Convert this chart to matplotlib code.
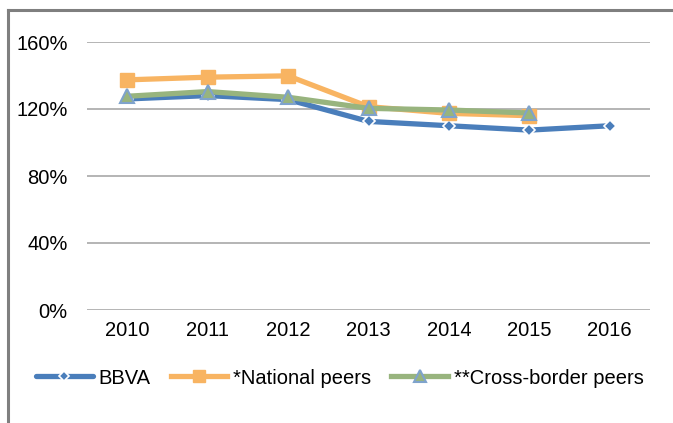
import matplotlib
matplotlib.use("Agg")
import matplotlib.pyplot as plt
from matplotlib.lines import Line2D

years = ["2010", "2011", "2012", "2013", "2014", "2015", "2016"]
bbva = [126.0, 128.0, 125.6, 112.6, 110.0, 107.4, 110.0]
national = [137.4, 139.0, 139.8, 121.4, 117.4, 116.0]
cross_border = [127.6, 130.4, 127.0, 120.4, 119.4, 117.6]
y_ticks = [0, 40, 80, 120, 160]
y_tick_labels = ["0%", "40%", "80%", "120%", "160%"]
series_names = ["BBVA", "*National peers", "**Cross-border peers"]

plt.rcParams['font.family'] = ['Liberation Sans', 'DejaVu Sans']

W, H = 673, 423
fig = plt.figure(figsize=(W / 100, H / 100), dpi=100)
ax = fig.add_axes([87 / W, 1 - 310 / H, (650 - 87) / W, (310 - 42) / H])

blue = "#4a7ebb"
orange = "#f8b462"
green = "#98b47e"

x = list(range(len(years)))
ax.plot(x, bbva, color=blue, lw=3.8, marker="D", ms=6.5, mfc=blue, mec="white",
        mew=1.2, solid_capstyle="round", zorder=3, clip_on=False, label=series_names[0])
ax.plot(x[:len(national)], national, color=orange, lw=3.8, marker="s", ms=10.5,
        mfc=orange, mec=orange, zorder=4, clip_on=False, label=series_names[1])
ax.plot(x[:len(cross_border)], cross_border, color=green, lw=3.8, marker="^", ms=10,
        mfc=green, mec="#7fa3cc", mew=1.5, zorder=5, clip_on=False, label=series_names[2])

ax.set_xlim(-0.5, len(years) - 0.5)
ax.set_ylim(0, 160)
ax.set_yticks(y_ticks)
ax.set_yticklabels(y_tick_labels)
ax.set_xticks(x)
ax.set_xticklabels(years)
ax.tick_params(axis="both", length=0, labelsize=14.5, colors="#000000")
ax.tick_params(axis="y", pad=14)
ax.tick_params(axis="x", pad=8)
ax.grid(axis="y", color="#a0a0a0", lw=1.1)
ax.set_axisbelow(True)
for s in ax.spines.values():
    s.set_visible(False)

fig.legend(loc="center", bbox_to_anchor=(340 / W, 1 - 378 / H), ncol=3, frameon=False,
           fontsize=14.5, handlelength=2.8, handletextpad=0.3, columnspacing=1.0,
           markerscale=0.8)

# outer frame (top and left)
fig.add_artist(Line2D([8 / W, 1.0], [1 - 10 / H, 1 - 10 / H], color="#7f7f7f", lw=2.2,
                      transform=fig.transFigure))
fig.add_artist(Line2D([8 / W, 8 / W], [1 - 10 / H, 0], color="#7f7f7f", lw=2.2,
                      transform=fig.transFigure))

fig.savefig("out.png", dpi=100)
